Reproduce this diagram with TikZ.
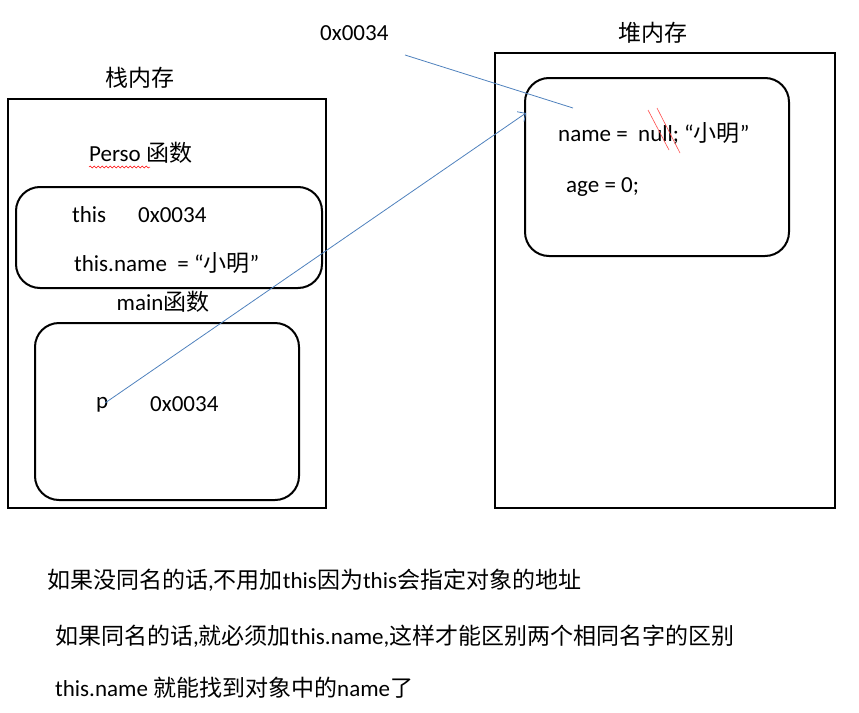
\documentclass[tikz,border=0pt]{standalone}
\usepackage{fontspec}
\setmainfont{Carlito}
\newfontfamily\cjk{Noto Sans CJK SC}
\usetikzlibrary{arrows.meta,decorations.pathmorphing}
\newcommand{\zh}[1]{{\cjk #1}}
\begin{document}
\begin{tikzpicture}[x=1pt,y=-1pt,
  box/.style={draw,line width=2pt},
  rbox/.style={draw,line width=2pt,rounded corners=24pt},
  txt/.style={inner sep=0pt,font=\fontsize{23}{27}\selectfont},
  ln/.style={draw={rgb,255:red,79;green,129;blue,189},line width=0.8pt}]
\useasboundingbox (0,0) rectangle (859,712);
\draw[box] (8,99) rectangle (326,508);
\draw[rbox] (16,187) rectangle (322,288);
\draw[rbox] (35,323) rectangle (299,500);
\draw[box] (495,53) rectangle (835,508);
\draw[rbox] (525,78) rectangle (789,256);
\node[txt] (stk) at (140,78) {\zh{栈内存}};
\node[txt] (heap) at (653,33) {\zh{堆内存}};
\node[txt,anchor=west] (addr) at (320,33) {0x0034};
\node[txt,anchor=west] (perso) at (89,153) {Perso \zh{函数}};
\draw[red,line width=0.5pt,decorate,decoration={snake,amplitude=1pt,segment length=4pt}] (89,167) -- (150,167);
\node[txt,anchor=west] (this) at (72,215) {this};
\node[txt,anchor=west] (thisv) at (138,215) {0x0034};
\node[txt,anchor=west] (thisn) at (74,263) {this.name\ \ = “\zh{小明}”};
\node[txt] (main) at (163,302) {main\zh{函数}};
\node[txt,anchor=west] (p) at (96,405) {p};
\node[txt,anchor=west] (pv) at (150,404) {0x0034};
\node[txt,anchor=west] (nm) at (558,133) {name =\ \ null; “\zh{小明}”};
\node[txt,anchor=west] (age) at (566,187) {age = 0;};
\draw[red!70,line width=0.6pt] (648,110) -- (669,150) (657,108) -- (680,153);
\coordinate (pt) at (105,403);
\coordinate (ht) at (526,113);
\coordinate (lt) at (405,55);
\coordinate (le) at (573,108);
\draw[ln,-{Straight Barb[length=6pt]}] (pt) -- (ht);
\draw[ln] (lt) -- (le);
\node[txt,anchor=west] (l1) at (47,580) {\zh{如果没同名的话},\zh{不用加}this\zh{因为}this\zh{会指定对象的地址}};
\node[txt,anchor=west] (l2) at (55,636) {\zh{如果同名的话},\zh{就必须加}this.name,\zh{这样才能区别两个相同名字的区别}};
\node[txt,anchor=west] (l3) at (55,688) {this.name \zh{就能找到对象中的}name\zh{了}};
\end{tikzpicture}
\end{document}
